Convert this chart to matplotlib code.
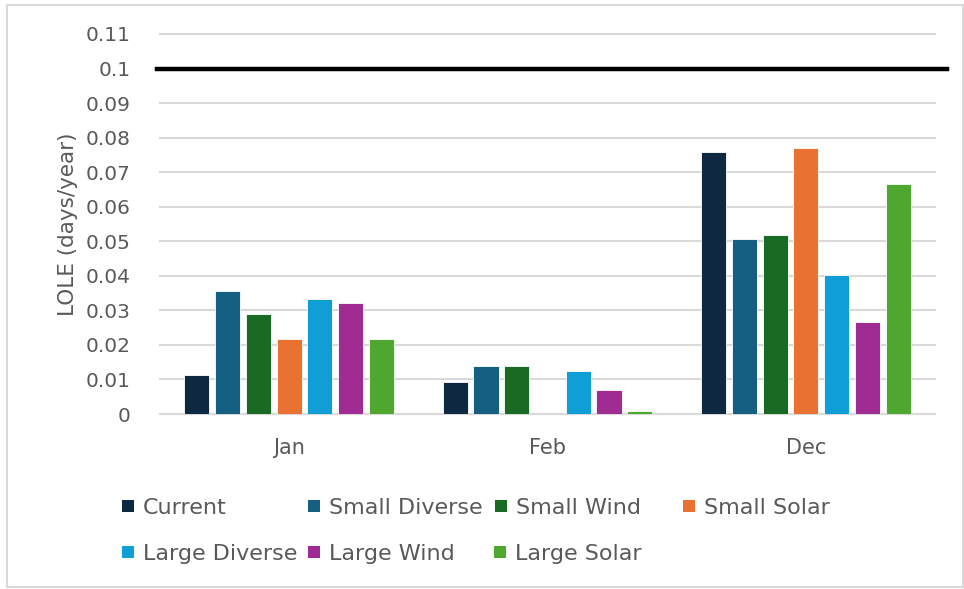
import numpy as np
import matplotlib
matplotlib.use('Agg')
import matplotlib.pyplot as plt
from matplotlib.patches import Rectangle

# Data
months = ['Jan', 'Feb', 'Dec']
series = ['Current', 'Small Diverse', 'Small Wind', 'Small Solar',
          'Large Diverse', 'Large Wind', 'Large Solar']
current = [0.0113, 0.0092, 0.0759]
small_diverse = [0.0355, 0.0140, 0.0506]
small_wind = [0.0290, 0.0140, 0.0518]
small_solar = [0.0218, 0.0, 0.0770]
large_diverse = [0.0333, 0.0124, 0.0402]
large_wind = [0.0322, 0.0069, 0.0266]
large_solar = [0.0218, 0.0010, 0.0667]
threshold = 0.1

values = [current, small_diverse, small_wind, small_solar,
          large_diverse, large_wind, large_solar]
colors = ['#0E2841', '#156082', '#196B24', '#E97132',
          '#0F9ED5', '#A02B93', '#4EA72E']

plt.rcParams['font.family'] = ['DejaVu Sans']
W, H = 964, 589

fig = plt.figure(figsize=(W / 100, H / 100), dpi=100)
ax = fig.add_axes([160 / W, 1 - 414 / H, 775 / W, 380 / H])

x = np.arange(len(months))
step = 0.119
width = 0.097
for i, (vals, col) in enumerate(zip(values, colors)):
    ax.bar(x + (i - 3) * step, vals, width, color=col,
           edgecolor='white', linewidth=0.6, zorder=3)

# reference line at 0.1
ax.axhline(threshold, xmin=-0.004, xmax=1.015, color='black',
           linewidth=3.2, zorder=4, clip_on=False)

ax.set_xlim(-0.5, 2.5)
ax.set_ylim(0, 0.11)
ax.set_yticks(np.arange(0, 0.111, 0.01))
ax.set_yticklabels(['0'] + ['%g' % round(v, 2) for v in np.arange(0.01, 0.111, 0.01)])
ax.set_xticks(x)
ax.set_xticklabels(months)
ax.tick_params(length=0, labelcolor='#595959')
ax.tick_params(axis='y', pad=21, labelsize=14.5)
ax.tick_params(axis='x', pad=17, labelsize=15)
ax.grid(axis='y', color='#D9D9D9', linewidth=1.5, zorder=0)
for gl in ax.get_ygridlines():
    gl.set_clip_on(False)
for s in ['top', 'right', 'left']:
    ax.spines[s].set_visible(False)
ax.spines['bottom'].set_color('#D9D9D9')
ax.spines['bottom'].set_linewidth(1.5)

ax.set_ylabel('LOLE (days/year)', fontsize=15.5, color='#595959', labelpad=6)

# legend placed like the Excel one (two rows, row-wise fill)
legend_pos = [(122, 506), (308, 506), (495, 506), (683, 506),
              (122, 552), (308, 552), (494, 552)]
sq = 12
for (px, py), name, col in zip(legend_pos, series, colors):
    fig.patches.append(Rectangle((px / W, 1 - (py + sq / 2) / H), sq / W, sq / H,
                                 transform=fig.transFigure, facecolor=col,
                                 edgecolor='none'))
    fig.text((px + 21) / W, 1 - py / H, name, fontsize=16, color='#595959',
             va='center_baseline', ha='left')

# outer chart border
fig.patches.append(Rectangle((7 / W, 2 / H), 956 / W, 582 / H,
                             transform=fig.transFigure, fill=False,
                             edgecolor='#D9D9D9', linewidth=1.5))

fig.savefig('out.png', dpi=100)
